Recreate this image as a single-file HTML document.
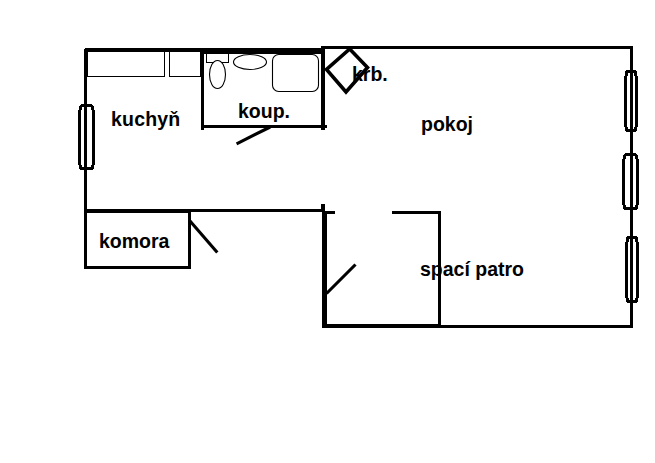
<!DOCTYPE html>
<html>
<head>
<meta charset="utf-8">
<style>
html,body{margin:0;padding:0;background:#fff;}
body{width:655px;height:463px;overflow:hidden;}
svg{display:block;}
text{font-family:"Liberation Sans",sans-serif;font-weight:bold;font-size:19.5px;fill:#000;}
</style>
</head>
<body>
<svg width="655" height="463" viewBox="0 0 655 463">
<rect x="0" y="0" width="655" height="463" fill="#fff"/>
<g fill="#000" shape-rendering="crispEdges">
  <rect x="85" y="48" width="116" height="4"/>
  <rect x="84" y="49" width="1" height="3"/>
  <rect x="201" y="48" width="121" height="6"/>
  <rect x="322" y="46" width="311" height="3"/>
  <rect x="630" y="46" width="3" height="282"/>
  <rect x="322" y="324" width="119" height="4"/>
  <rect x="441" y="325" width="192" height="3"/>
  <rect x="84" y="49" width="3" height="220"/>
  <rect x="87" y="52" width="1" height="25"/>
  <rect x="87" y="76" width="78" height="1"/>
  <rect x="164" y="52" width="1" height="25"/>
  <rect x="169" y="52" width="1" height="25"/>
  <rect x="169" y="76" width="32" height="1"/>
  <rect x="200" y="52" width="1" height="25"/>
  <rect x="201" y="48" width="3" height="82"/>
  <rect x="201" y="125" width="126" height="3"/>
  <rect x="321" y="46" width="4" height="84"/>
  <rect x="84" y="209" width="238" height="3"/>
  <rect x="84" y="212" width="104" height="1"/>
  <rect x="188" y="209" width="3" height="60"/>
  <rect x="84" y="266" width="107" height="3"/>
  <rect x="321" y="204" width="4" height="8"/>
  <rect x="322" y="211" width="5" height="117"/>
  <rect x="322" y="211" width="13" height="3"/>
  <rect x="392" y="211" width="49" height="3"/>
  <rect x="438" y="211" width="3" height="117"/>
  <rect x="206" y="54" width="1" height="9"/>
  <rect x="228" y="54" width="1" height="9"/>
  <rect x="206" y="62" width="23" height="1"/>
  <rect x="81" y="104" width="11" height="1"/>
  <rect x="80" y="105" width="13" height="1"/>
  <rect x="79" y="106" width="15" height="1"/>
  <rect x="79" y="107" width="3" height="3"/>
  <rect x="91" y="107" width="3" height="3"/>
  <rect x="78" y="110" width="3" height="55"/>
  <rect x="92" y="110" width="3" height="55"/>
  <rect x="79" y="165" width="3" height="2"/>
  <rect x="91" y="165" width="3" height="2"/>
  <rect x="80" y="169" width="13" height="1"/>
  <rect x="79" y="168" width="15" height="1"/>
  <rect x="79" y="167" width="15" height="1"/>
  <rect x="626" y="70" width="10" height="1"/>
  <rect x="625" y="71" width="12" height="1"/>
  <rect x="625" y="72" width="12" height="1"/>
  <rect x="625" y="73" width="3" height="3"/>
  <rect x="634" y="73" width="3" height="3"/>
  <rect x="624" y="76" width="3" height="51"/>
  <rect x="635" y="76" width="3" height="51"/>
  <rect x="625" y="127" width="3" height="2"/>
  <rect x="634" y="127" width="3" height="2"/>
  <rect x="626" y="131" width="10" height="1"/>
  <rect x="625" y="130" width="12" height="1"/>
  <rect x="625" y="129" width="12" height="1"/>
  <rect x="625" y="153" width="11" height="1"/>
  <rect x="624" y="154" width="13" height="1"/>
  <rect x="623" y="155" width="15" height="1"/>
  <rect x="623" y="156" width="3" height="3"/>
  <rect x="635" y="156" width="3" height="3"/>
  <rect x="622" y="159" width="3" height="46"/>
  <rect x="636" y="159" width="3" height="46"/>
  <rect x="623" y="205" width="3" height="2"/>
  <rect x="635" y="205" width="3" height="2"/>
  <rect x="624" y="209" width="13" height="1"/>
  <rect x="623" y="208" width="15" height="1"/>
  <rect x="623" y="207" width="15" height="1"/>
  <rect x="627" y="236" width="10" height="1"/>
  <rect x="626" y="237" width="12" height="1"/>
  <rect x="626" y="238" width="12" height="1"/>
  <rect x="626" y="239" width="3" height="3"/>
  <rect x="635" y="239" width="3" height="3"/>
  <rect x="625" y="242" width="3" height="56"/>
  <rect x="636" y="242" width="3" height="56"/>
  <rect x="626" y="298" width="3" height="2"/>
  <rect x="635" y="298" width="3" height="2"/>
  <rect x="627" y="302" width="10" height="1"/>
  <rect x="626" y="301" width="12" height="1"/>
  <rect x="626" y="300" width="12" height="1"/>
</g>
<g fill="none" stroke="#000" stroke-width="1.1">
  <ellipse cx="217.5" cy="74.5" rx="8" ry="14" fill="#fff"/>
  <ellipse cx="250" cy="62" rx="16.5" ry="7.5"/>
  <rect x="272.5" y="54.5" width="46" height="37" rx="6.2" ry="6.2"/>
</g>
<polygon points="349.7,49 367.5,67.5 346,92 326.5,69.5" fill="none" stroke="#000" stroke-width="3.6" stroke-linejoin="miter"/>
<g stroke="#000" stroke-width="3.1" fill="none">
  <line x1="270.2" y1="127" x2="236.6" y2="143.8"/>
  <line x1="190" y1="221" x2="217.3" y2="252.5"/>
  <line x1="326.5" y1="293.5" x2="355.5" y2="264.5"/>
</g>
<text x="111" y="125.5" letter-spacing="0.2">kuchyň</text>
<text x="238" y="118">koup.</text>
<text x="352" y="80.5">krb.</text>
<text x="421" y="131">pokoj</text>
<text x="99" y="247.5">komora</text>
<text x="420" y="275.5">spací patro</text>
</svg>
</body>
</html>
